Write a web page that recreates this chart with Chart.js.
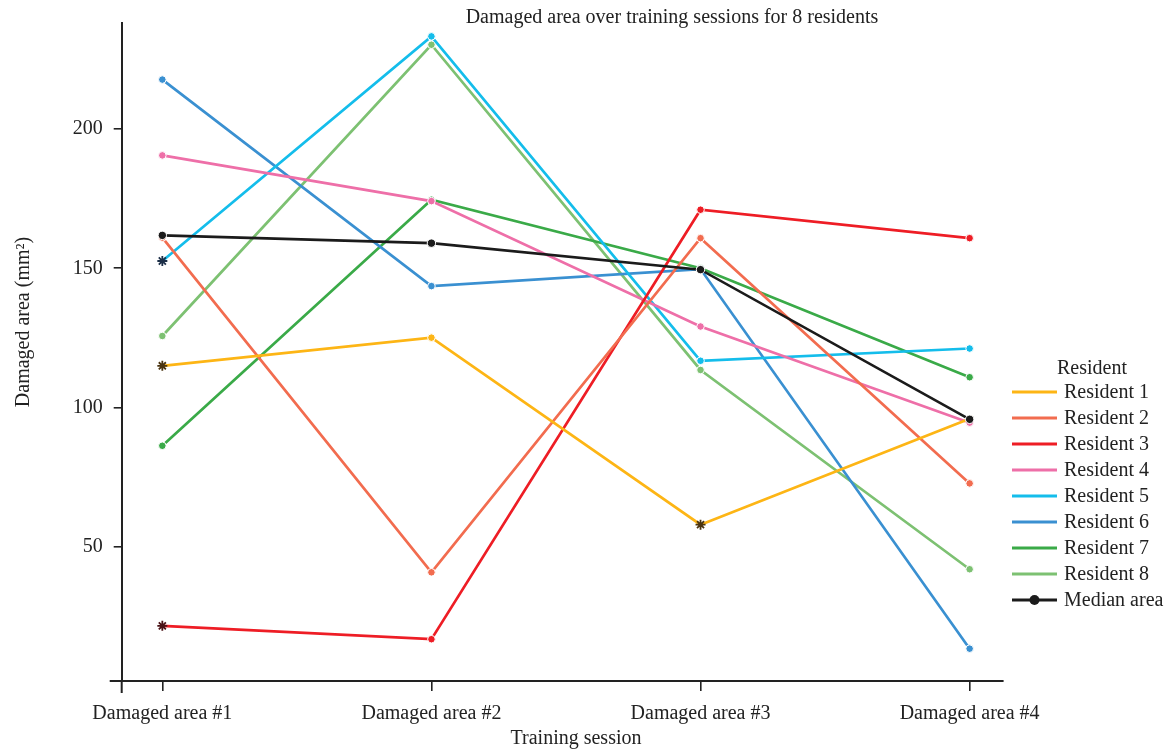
<!DOCTYPE html>
<html>
<head>
<meta charset="utf-8">
<script src="https://cdn.jsdelivr.net/npm/chart.js@4.4.1/dist/chart.umd.min.js"></script>
<style>
  html, body { margin: 0; padding: 0; background: #fff; }
  #wrap { position: relative; width: 1169px; height: 750px; }
</style>
</head>
<body>
<div id="wrap"><canvas id="c" width="1169" height="750"></canvas></div>
<script>
// Training sessions (x categories)
const sessions = ['Damaged area #1', 'Damaged area #2', 'Damaged area #3', 'Damaged area #4'];

// Damaged area (mm²) per resident, one value per session
const resident1 = [115.0, 125.1, 58.0, 96.0];
const resident2 = [161.0, 40.9, 160.8, 72.8];
const resident3 = [21.7, 16.9, 171.0, 160.8];
const resident4 = [190.5, 174.1, 129.1, 94.6];
const resident5 = [152.6, 233.2, 116.8, 121.2];
const resident6 = [217.7, 143.6, 149.7, 13.5];
const resident7 = [86.3, 174.6, 150.0, 110.9];
const resident8 = [125.7, 230.2, 113.5, 42.0];
const medianArea = [161.8, 159.0, 149.5, 95.8];

const residentNames = ['Resident 1', 'Resident 2', 'Resident 3', 'Resident 4',
                       'Resident 5', 'Resident 6', 'Resident 7', 'Resident 8'];
const residentValues = [resident1, resident2, resident3, resident4,
                        resident5, resident6, resident7, resident8];
const residentColors = ['#FDB515', '#F26C4F', '#EE1D25', '#EE6FA8',
                        '#14BDEB', '#3A90D1', '#3AAA48', '#7DC172'];
const starColors = ['#4a3410', '#4a2418', '#4a1216', '#4a2436',
                    '#1c2f48', '#1c2f48', '#1c3a1c', '#2a3a22'];

// Sessions marked with an asterisk, keyed by resident index
const starred = { 0: [0, 2], 2: [0], 4: [0] };

const yTicks = [50, 100, 150, 200];

const INK = '#222222';
const FONT = "'Liberation Serif', 'DejaVu Serif', serif";
const FSIZE = 20;

Chart.defaults.font.family = FONT;
Chart.defaults.font.size = FSIZE;
Chart.defaults.color = INK;

const toPoints = arr => arr.map((v, i) => ({ x: i, y: v }));

const datasets = residentValues.map((vals, r) => {
  const marks = starred[r] || [];
  return {
    label: residentNames[r],
    data: toPoints(vals),
    borderColor: residentColors[r],
    backgroundColor: residentColors[r],
    borderWidth: 2.7,
    order: r + 1,
    pointStyle: ctx => marks.includes(ctx.dataIndex) ? 'star' : 'circle',
    pointRadius: ctx => marks.includes(ctx.dataIndex) ? 5 : 3.8,
    pointBackgroundColor: residentColors[r],
    pointBorderColor: ctx => marks.includes(ctx.dataIndex) ? starColors[r] : '#ffffff',
    pointBorderWidth: ctx => marks.includes(ctx.dataIndex) ? 1.8 : 1,
    tension: 0
  };
});

datasets.push({
  label: 'Median area',
  data: toPoints(medianArea),
  borderColor: '#1b1b1b',
  backgroundColor: '#1b1b1b',
  borderWidth: 2.6,
  order: 0,
  pointStyle: 'circle',
  pointRadius: 4.2,
  pointBackgroundColor: '#1b1b1b',
  pointBorderColor: '#ffffff',
  pointBorderWidth: 1,
  tension: 0
});

// Title, axis titles, legend and the small axis-end stubs
const decorations = {
  id: 'decorations',
  afterDraw(chart) {
    const { ctx, chartArea } = chart;
    ctx.save();

    // axis-end stubs
    ctx.strokeStyle = INK;
    ctx.lineWidth = 2;
    ctx.beginPath();
    ctx.moveTo(chartArea.left, chartArea.bottom);
    ctx.lineTo(chartArea.left, chartArea.bottom + 12);
    ctx.moveTo(chartArea.left - 12, chartArea.bottom);
    ctx.lineTo(chartArea.left, chartArea.bottom);
    ctx.stroke();

    ctx.fillStyle = INK;
    ctx.font = `${FSIZE}px ${FONT}`;
    ctx.textBaseline = 'middle';

    // chart title
    ctx.textAlign = 'center';
    ctx.fillText('Damaged area over training sessions for 8 residents', 672, 18);

    // x axis title
    ctx.fillText('Training session', 576, 739);

    // y axis title
    ctx.save();
    ctx.translate(24, 322);
    ctx.rotate(-Math.PI / 2);
    ctx.fillText('Damaged area (mm\u00B2)', 0, 0);
    ctx.restore();

    // legend
    const lx0 = 1012, lx1 = 1057, tx = 1064, y0 = 392, step = 26;
    ctx.textAlign = 'center';
    ctx.fillText('Resident', 1092, 369);
    ctx.textAlign = 'left';
    const items = chart.data.datasets;
    items.forEach((ds, i) => {
      const y = y0 + i * step;
      ctx.strokeStyle = ds.borderColor;
      ctx.lineWidth = 3;
      ctx.beginPath();
      ctx.moveTo(lx0, y);
      ctx.lineTo(lx1, y);
      ctx.stroke();
      if (ds.label === 'Median area') {
        ctx.fillStyle = ds.borderColor;
        ctx.beginPath();
        ctx.arc((lx0 + lx1) / 2, y, 5, 0, Math.PI * 2);
        ctx.fill();
      }
      ctx.fillStyle = INK;
      ctx.fillText(ds.label, tx, y + 1);
    });

    ctx.restore();
  }
};

new Chart(document.getElementById('c'), {
  type: 'line',
  data: { datasets },
  plugins: [decorations],
  options: {
    responsive: false,
    animation: false,
    events: [],
    layout: { padding: { top: 22, right: 166, bottom: 0, left: 0 } },
    plugins: {
      legend: { display: false },
      title: { display: false },
      tooltip: { enabled: false }
    },
    scales: {
      x: {
        type: 'linear',
        min: -0.151,
        max: 3.124,
        afterBuildTicks: s => { s.ticks = sessions.map((_, i) => ({ value: i })); },
        afterFit: s => { s.height = 69; },
        ticks: {
          callback: v => sessions[v],
          color: INK,
          font: { size: FSIZE },
          padding: 11,
          maxRotation: 0,
          autoSkip: false
        },
        grid: { drawOnChartArea: false, tickLength: 10, color: INK, lineWidth: 1.6 },
        border: { display: true, color: INK, width: 2 }
      },
      y: {
        type: 'linear',
        min: 1.9,
        max: 238,
        afterBuildTicks: s => { s.ticks = yTicks.map(v => ({ value: v })); },
        afterFit: s => { s.width = 121.7; },
        ticks: { color: INK, font: { size: FSIZE }, padding: 11 },
        grid: { drawOnChartArea: false, tickLength: 8, color: INK, lineWidth: 1.6 },
        border: { display: true, color: INK, width: 2 }
      }
    }
  }
});
</script>
</body>
</html>
